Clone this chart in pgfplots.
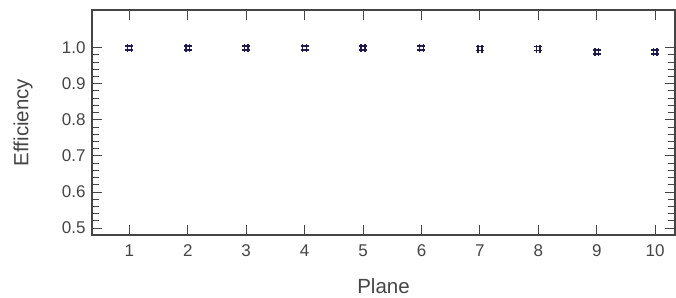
\documentclass[border=0pt]{standalone}
\usepackage{fontspec}
\setmainfont{Liberation Sans}
\usepackage{pgfplots}
\pgfplotsset{compat=1.18}
\definecolor{axgray}{HTML}{454545}
\definecolor{navy}{HTML}{1C1C52}
\pgfdeclareplotmark{hash}{%
  \pgfpathmoveto{\pgfqpoint{-4pt}{1.9pt}}\pgfpathlineto{\pgfqpoint{4pt}{1.9pt}}%
  \pgfpathmoveto{\pgfqpoint{-4pt}{-1.9pt}}\pgfpathlineto{\pgfqpoint{4pt}{-1.9pt}}%
  \pgfpathmoveto{\pgfqpoint{1.9pt}{-4pt}}\pgfpathlineto{\pgfqpoint{1.9pt}{4pt}}%
  \pgfpathmoveto{\pgfqpoint{-1.9pt}{-4pt}}\pgfpathlineto{\pgfqpoint{-1.9pt}{4pt}}%
  \pgfusepathqstroke}
\begin{document}
\begin{tikzpicture}
\begin{axis}[
  scale only axis,
  width=583pt, height=225pt,
  xmin=0.36, xmax=10.34,
  ymin=0.481, ymax=1.104,
  xtick={1,...,10},
  ytick={0.5,0.6,0.7,0.8,0.9,1.0},
  minor y tick num=4,
  tick align=inside,
  major tick length=10pt,
  minor tick length=7pt,
  axis line style={axgray, line width=1.2pt},
  every tick/.style={axgray, line width=1pt},
  tick label style={font=\fontsize{17}{17}\selectfont, text=axgray},
  yticklabel style={/pgf/number format/fixed, /pgf/number format/fixed zerofill, /pgf/number format/precision=1},
  /pgf/number format/assume math mode=true,
  xticklabel style={yshift=-6pt},
  yticklabel style={xshift=-3pt},
  label style={font=\fontsize{20.5}{20.5}\selectfont, text=axgray},
  xlabel={Plane},
  ylabel={Efficiency},
  xlabel style={at={(axis description cs:0.5,0)}, anchor=center, yshift=-51pt},
  ylabel style={at={(axis description cs:0,0.5)}, anchor=center, yshift=69pt},
]
\addplot[only marks, mark=hash, mark options={navy, line width=1.5pt}] coordinates {
(1,0.999) (2,0.999) (3,0.999) (4,0.999) (5,0.999) (6,0.999)
(7,0.997) (8,0.997) (9,0.988) (10,0.988)
};
\coordinate (sw) at (rel axis cs:0,0);
\end{axis}
\pgfresetboundingbox
\path[use as bounding box] (sw)++(-92pt,-62pt) rectangle ++(676pt,297pt);
\end{tikzpicture}
\end{document}
